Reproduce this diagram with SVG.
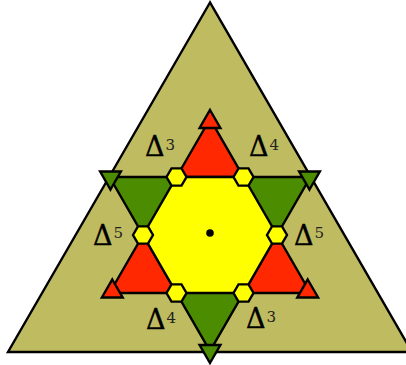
<svg xmlns="http://www.w3.org/2000/svg" xmlns:xlink="http://www.w3.org/1999/xlink" width="406" height="365" viewBox="0 0 406 365">
  <style>
    .ln { stroke: #000; stroke-width: 2.4; stroke-linejoin: miter; }
    .bg { fill: #bfbb60; }
    .red { fill: #ff2800; }
    .grn { fill: #4b8c00; }
    .yel { fill: #ffff00; }
    .lbl { font-family: "DejaVu Serif", "Liberation Serif", serif; font-size: 27px; fill: #000; stroke: #000; stroke-width: 0.4; }
    .sup { font-size: 15px; fill: #222; stroke: none; }
  </style>
  <defs>
    <path id="hx" d="M-10,0 L-5,-8.66 L5,-8.66 L10,0 L5,8.66 L-5,8.66 Z" class="ln yel"/>
    <path id="tu" d="M0,-12 L10.4,6 L-10.4,6 Z" class="ln red"/>
    <path id="td" d="M0,12 L10.4,-6 L-10.4,-6 Z" class="ln grn"/>
  </defs>
  <rect width="406" height="365" fill="#fff"/>
  <g id="outer">
    <path d="M210,2.5 L8,352 L412,352 Z" class="ln bg" stroke-width="2.6"/>
  </g>
  <g id="connectors">
    <path d="M210,119 L109.54,293 L310.46,293 Z" class="ln red"/>
    <path d="M109.54,177 L310.46,177 L210,351 Z" class="ln grn"/>
    <path d="M176.5,177 L243.5,177 L277,235 L243.5,293 L176.5,293 L143,235 Z" class="ln yel"/>
  </g>
  <g id="center"><circle cx="210" cy="233" r="3.8" fill="#000"/></g>
  <g id="n1"><use xlink:href="#hx" x="176.5" y="177"/></g>
  <g id="n2"><use xlink:href="#hx" x="243.5" y="177"/></g>
  <g id="n3"><use xlink:href="#hx" x="277" y="235"/></g>
  <g id="n4"><use xlink:href="#hx" x="243.5" y="293"/></g>
  <g id="n5"><use xlink:href="#hx" x="176.5" y="293"/></g>
  <g id="n6"><use xlink:href="#hx" x="143" y="235"/></g>
  <g id="m1"><use xlink:href="#tu" x="210" y="122"/></g>
  <g id="m2"><use xlink:href="#tu" x="112.3" y="291.5"/></g>
  <g id="m3"><use xlink:href="#tu" x="307.7" y="291.5"/></g>
  <g id="m4"><use xlink:href="#td" x="110.5" y="177.5"/></g>
  <g id="m5"><use xlink:href="#td" x="309.5" y="177.5"/></g>
  <g id="m6"><use xlink:href="#td" x="210" y="351"/></g>
  <g id="labels">
    <text class="lbl" x="145" y="155.5">Δ<tspan class="sup" dx="1" dy="-5.5">3</tspan></text>
    <text class="lbl" x="249" y="155.5">Δ<tspan class="sup" dx="1" dy="-5.5">4</tspan></text>
    <text class="lbl" x="93" y="244.5">Δ<tspan class="sup" dx="1" dy="-6.5">5</tspan></text>
    <text class="lbl" x="294" y="244.5">Δ<tspan class="sup" dx="1" dy="-6.5">5</tspan></text>
    <text class="lbl" x="146" y="328.5">Δ<tspan class="sup" dx="1" dy="-5.5">4</tspan></text>
    <text class="lbl" x="246" y="327.5">Δ<tspan class="sup" dx="1" dy="-5.5">3</tspan></text>
  </g>
</svg>
